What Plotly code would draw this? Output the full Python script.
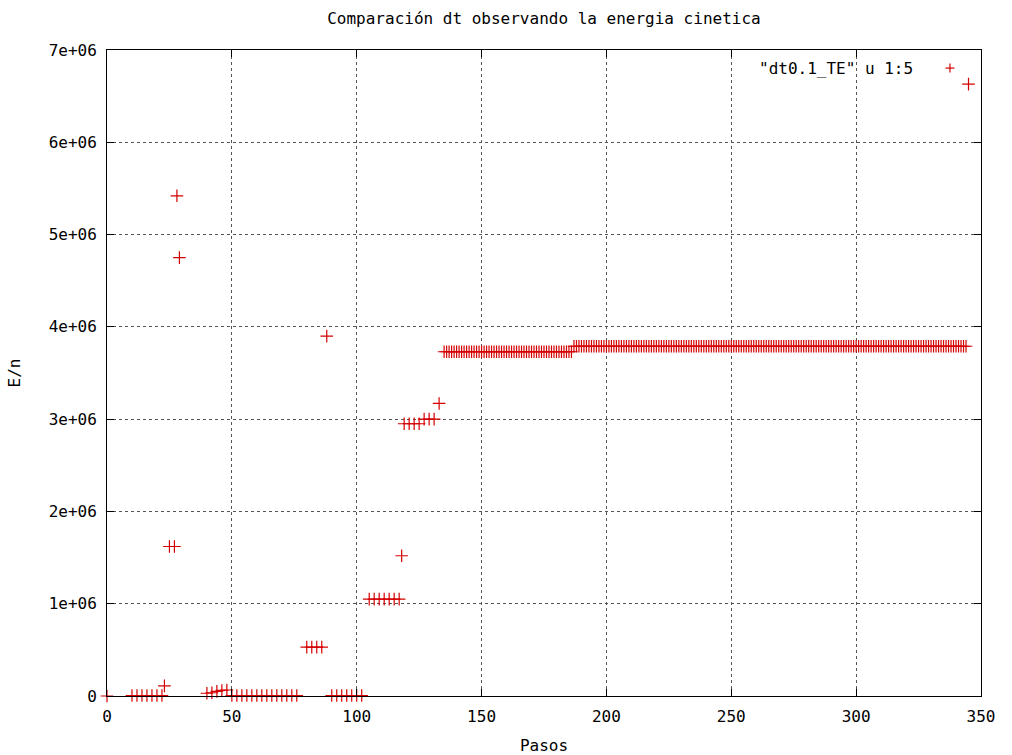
import plotly.graph_objects as go

# ---- data (paso, E/n) ----
pasos = [
    0,
    10, 12, 14, 16, 18, 20, 22,
    23,
    25, 27,
    28, 29,
    40, 42, 44, 46, 48,
    50, 52, 54, 56, 58, 60, 62, 64, 66, 68, 70, 72, 74, 76,
    80, 82, 84, 86,
    88,
    90, 92, 94, 96, 98, 100, 102,
    105, 107, 109, 111, 113, 115, 117,
    118,
    119, 121, 123, 125,
    127, 129, 131,
    133,
    135, 136, 137, 138, 139, 140, 141, 142, 143, 144, 145, 146, 147, 148,
    149, 150, 151, 152, 153, 154, 155, 156, 157, 158, 159, 160, 161, 162,
    163, 164, 165, 166, 167, 168, 169, 170, 171, 172, 173, 174, 175, 176,
    177, 178, 179, 180, 181, 182, 183, 184, 185, 186,
    187, 188, 189, 190, 191, 192, 193, 194, 195, 196, 197, 198, 199, 200,
    201, 202, 203, 204, 205, 206, 207, 208, 209, 210, 211, 212, 213, 214,
    215, 216, 217, 218, 219, 220, 221, 222, 223, 224, 225, 226, 227, 228,
    229, 230, 231, 232, 233, 234, 235, 236, 237, 238, 239, 240, 241, 242,
    243, 244, 245, 246, 247, 248, 249, 250, 251, 252, 253, 254, 255, 256,
    257, 258, 259, 260, 261, 262, 263, 264, 265, 266, 267, 268, 269, 270,
    271, 272, 273, 274, 275, 276, 277, 278, 279, 280, 281, 282, 283, 284,
    285, 286, 287, 288, 289, 290, 291, 292, 293, 294, 295, 296, 297, 298,
    299, 300, 301, 302, 303, 304, 305, 306, 307, 308, 309, 310, 311, 312,
    313, 314, 315, 316, 317, 318, 319, 320, 321, 322, 323, 324, 325, 326,
    327, 328, 329, 330, 331, 332, 333, 334, 335, 336, 337, 338, 339, 340,
    341, 342, 343, 344,
    345,
]

energia = [
    0,
    5e3, 5e3, 5e3, 5e3, 5e3, 5e3, 5e3,
    1.1e5,
    1.62e6, 1.62e6,
    5.42e6, 4.75e6,
    3.0e4, 3.5e4, 5.0e4, 6.0e4, 6.5e4,
    5e3, 5e3, 5e3, 5e3, 5e3, 5e3, 5e3, 5e3, 5e3, 5e3, 5e3, 5e3, 5e3, 5e3,
    5.3e5, 5.3e5, 5.3e5, 5.3e5,
    3.9e6,
    5e3, 5e3, 5e3, 5e3, 5e3, 5e3, 5e3,
    1.05e6, 1.05e6, 1.05e6, 1.05e6, 1.05e6, 1.05e6, 1.05e6,
    1.52e6,
    2.95e6, 2.95e6, 2.95e6, 2.95e6,
    3.0e6, 3.0e6, 3.0e6,
    3.17e6,
    3.73e6, 3.73e6, 3.73e6, 3.73e6, 3.73e6, 3.73e6, 3.73e6, 3.73e6, 3.73e6, 3.73e6, 3.73e6, 3.73e6, 3.73e6, 3.73e6,
    3.73e6, 3.73e6, 3.73e6, 3.73e6, 3.73e6, 3.73e6, 3.73e6, 3.73e6, 3.73e6, 3.73e6, 3.73e6, 3.73e6, 3.73e6, 3.73e6,
    3.73e6, 3.73e6, 3.73e6, 3.73e6, 3.73e6, 3.73e6, 3.73e6, 3.73e6, 3.73e6, 3.73e6, 3.73e6, 3.73e6, 3.73e6, 3.73e6,
    3.73e6, 3.73e6, 3.73e6, 3.73e6, 3.73e6, 3.73e6, 3.73e6, 3.73e6, 3.73e6, 3.73e6,
    3.79e6, 3.79e6, 3.79e6, 3.79e6, 3.79e6, 3.79e6, 3.79e6, 3.79e6, 3.79e6, 3.79e6, 3.79e6, 3.79e6, 3.79e6, 3.79e6,
    3.79e6, 3.79e6, 3.79e6, 3.79e6, 3.79e6, 3.79e6, 3.79e6, 3.79e6, 3.79e6, 3.79e6, 3.79e6, 3.79e6, 3.79e6, 3.79e6,
    3.79e6, 3.79e6, 3.79e6, 3.79e6, 3.79e6, 3.79e6, 3.79e6, 3.79e6, 3.79e6, 3.79e6, 3.79e6, 3.79e6, 3.79e6, 3.79e6,
    3.79e6, 3.79e6, 3.79e6, 3.79e6, 3.79e6, 3.79e6, 3.79e6, 3.79e6, 3.79e6, 3.79e6, 3.79e6, 3.79e6, 3.79e6, 3.79e6,
    3.79e6, 3.79e6, 3.79e6, 3.79e6, 3.79e6, 3.79e6, 3.79e6, 3.79e6, 3.79e6, 3.79e6, 3.79e6, 3.79e6, 3.79e6, 3.79e6,
    3.79e6, 3.79e6, 3.79e6, 3.79e6, 3.79e6, 3.79e6, 3.79e6, 3.79e6, 3.79e6, 3.79e6, 3.79e6, 3.79e6, 3.79e6, 3.79e6,
    3.79e6, 3.79e6, 3.79e6, 3.79e6, 3.79e6, 3.79e6, 3.79e6, 3.79e6, 3.79e6, 3.79e6, 3.79e6, 3.79e6, 3.79e6, 3.79e6,
    3.79e6, 3.79e6, 3.79e6, 3.79e6, 3.79e6, 3.79e6, 3.79e6, 3.79e6, 3.79e6, 3.79e6, 3.79e6, 3.79e6, 3.79e6, 3.79e6,
    3.79e6, 3.79e6, 3.79e6, 3.79e6, 3.79e6, 3.79e6, 3.79e6, 3.79e6, 3.79e6, 3.79e6, 3.79e6, 3.79e6, 3.79e6, 3.79e6,
    3.79e6, 3.79e6, 3.79e6, 3.79e6, 3.79e6, 3.79e6, 3.79e6, 3.79e6, 3.79e6, 3.79e6, 3.79e6, 3.79e6, 3.79e6, 3.79e6,
    3.79e6, 3.79e6, 3.79e6, 3.79e6, 3.79e6, 3.79e6, 3.79e6, 3.79e6, 3.79e6, 3.79e6, 3.79e6, 3.79e6, 3.79e6, 3.79e6,
    3.79e6, 3.79e6, 3.79e6, 3.79e6,
    6.63e6,
]

x_ticks = [0, 50, 100, 150, 200, 250, 300, 350]
x_ticktext = ["0", "50", "100", "150", "200", "250", "300", "350"]
y_ticks = [0, 1e6, 2e6, 3e6, 4e6, 5e6, 6e6, 7e6]
y_ticktext = ["0", "1e+06", "2e+06", "3e+06", "4e+06", "5e+06", "6e+06", "7e+06"]

titulo = "Comparación dt observando la energia cinetica"
leyenda = '"dt0.1_TE" u 1:5'
FONT = "DejaVu Sans Mono"
FS = 16
RED = "#d40000"

fig = go.Figure()
fig.add_trace(go.Scatter(
    x=pasos, y=energia, mode="markers", name=leyenda,
    marker=dict(symbol="cross-thin", size=9,
                line=dict(color=RED, width=1.2), color=RED),
    cliponaxis=False, showlegend=False,
))

axis_common = dict(
    showline=True, linecolor="black", linewidth=1, mirror="allticks",
    ticks="inside", ticklen=7, tickcolor="black", tickwidth=1,
    showgrid=True, gridcolor="#555555", griddash="3px,3px", gridwidth=1,
    zeroline=False, automargin=False,
    tickfont=dict(family=FONT, size=FS, color="black"),
)

fig.update_layout(
    width=1012, height=755,
    margin=dict(l=107, r=31, t=50, b=59),
    paper_bgcolor="white", plot_bgcolor="white",
    title=dict(text=titulo, x=0.5375, xanchor="center", y=1 - 18 / 755,
               yanchor="middle", font=dict(family=FONT, size=FS, color="black")),
    xaxis=dict(range=[0, 350], tickvals=x_ticks, ticktext=x_ticktext,
               ticklabelstandoff=6,
               title=dict(text="Pasos", standoff=15,
                          font=dict(family=FONT, size=FS, color="black")),
               **axis_common),
    yaxis=dict(range=[0, 7e6], tickvals=y_ticks, ticktext=y_ticktext,
               ticklabelstandoff=6,
               title=dict(text="E/n", standoff=24,
                          font=dict(family=FONT, size=FS, color="black")),
               **axis_common),
    annotations=[dict(text=leyenda, xref="paper", yref="paper",
                      x=0.9245, y=0.972, xanchor="right", yanchor="middle",
                      showarrow=False,
                      font=dict(family=FONT, size=FS, color="black"))],
    shapes=[
        dict(type="line", xref="paper", yref="paper",
             xsizemode="pixel", ysizemode="pixel",
             xanchor=0.9645, yanchor=0.972, x0=-4.5, x1=4.5, y0=0, y1=0,
             line=dict(color=RED, width=1.2)),
        dict(type="line", xref="paper", yref="paper",
             xsizemode="pixel", ysizemode="pixel",
             xanchor=0.9645, yanchor=0.972, x0=0, x1=0, y0=-4.5, y1=4.5,
             line=dict(color=RED, width=1.2)),
    ],
)

fig.write_html("out.html")
